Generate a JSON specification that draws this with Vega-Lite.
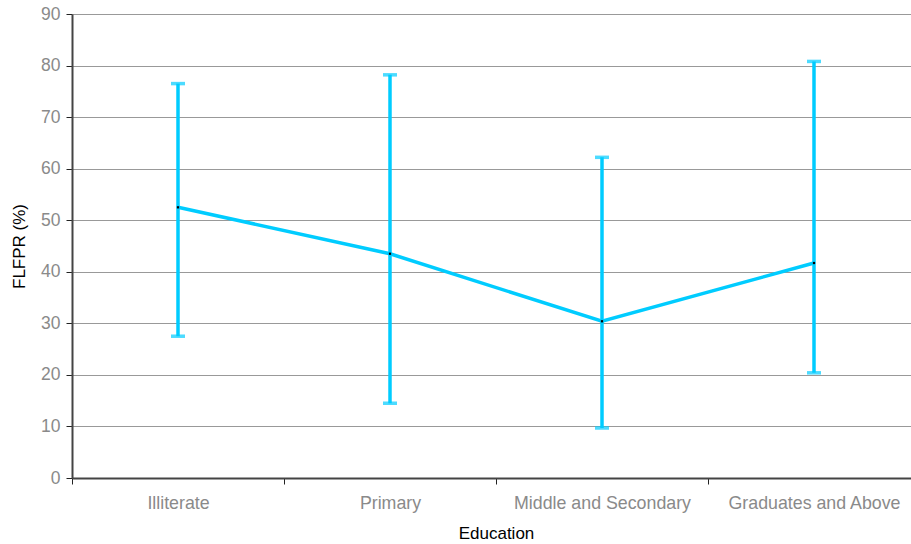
{
  "$schema": "https://vega.github.io/schema/vega-lite/v6.json",
  "width": 848,
  "height": 464,
  "autosize": {"type": "none"},
  "padding": {"left": 72, "top": 14, "right": 0, "bottom": 66},
  "background": "white",
  "config": {
    "view": {"stroke": null},
    "font": "Liberation Sans"
  },
  "data": {
    "values": [
      {"education": "Illiterate", "mean": 52.5, "low": 27.5, "high": 76.5},
      {"education": "Primary", "mean": 43.5, "low": 14.5, "high": 78.2},
      {"education": "Middle and Secondary", "mean": 30.4, "low": 9.7, "high": 62.2},
      {"education": "Graduates and Above", "mean": 41.7, "low": 20.4, "high": 80.8}
    ]
  },
  "encoding": {
    "x": {
      "field": "education",
      "type": "nominal",
      "sort": null,
      "scale": {"paddingInner": 0, "paddingOuter": 0},
      "axis": {
        "title": "Education",
        "labelAngle": 0,
        "labelColor": "#8a8a8a",
        "labelFontSize": 17.8,
        "labelPadding": 10,
        "titleFontSize": 17,
        "titleFontWeight": "normal",
        "titleColor": "#000000",
        "titlePadding": 14,
        "domainColor": "#444444",
        "domainWidth": 2,
        "tickColor": "#222222",
        "tickSize": 6,
        "tickBand": "extent",
        "grid": false
      }
    }
  },
  "layer": [
    {
      "mark": {"type": "rule", "color": "#00CCFF", "strokeWidth": 3.5},
      "encoding": {
        "y": {
          "field": "low",
          "type": "quantitative",
          "scale": {"domain": [0, 90], "nice": false},
          "axis": {
            "title": "FLFPR (%)",
            "values": [0, 10, 20, 30, 40, 50, 60, 70, 80, 90],
            "labelColor": "#8a8a8a",
            "labelFontSize": 17.5,
            "labelPadding": 6,
            "titleFontSize": 17,
            "titleFontWeight": "normal",
            "titleColor": "#000000",
            "titlePadding": 12,
            "domainColor": "#444444",
            "domainWidth": 2,
            "tickColor": "#222222",
            "tickSize": 6,
            "grid": true,
            "gridColor": "#999999",
            "gridWidth": 1
          }
        },
        "y2": {"field": "high"}
      }
    },
    {
      "mark": {"type": "tick", "color": "#00CCFF", "thickness": 3.5, "size": 14, "orient": "horizontal"},
      "encoding": {"y": {"field": "low", "type": "quantitative"}}
    },
    {
      "mark": {"type": "tick", "color": "#00CCFF", "thickness": 3.5, "size": 14, "orient": "horizontal"},
      "encoding": {"y": {"field": "high", "type": "quantitative"}}
    },
    {
      "mark": {"type": "line", "color": "#00CCFF", "strokeWidth": 3.5},
      "encoding": {"y": {"field": "mean", "type": "quantitative"}}
    },
    {
      "mark": {"type": "point", "shape": "square", "filled": true, "color": "#000000", "size": 5, "opacity": 1},
      "encoding": {"y": {"field": "mean", "type": "quantitative"}}
    }
  ]
}
